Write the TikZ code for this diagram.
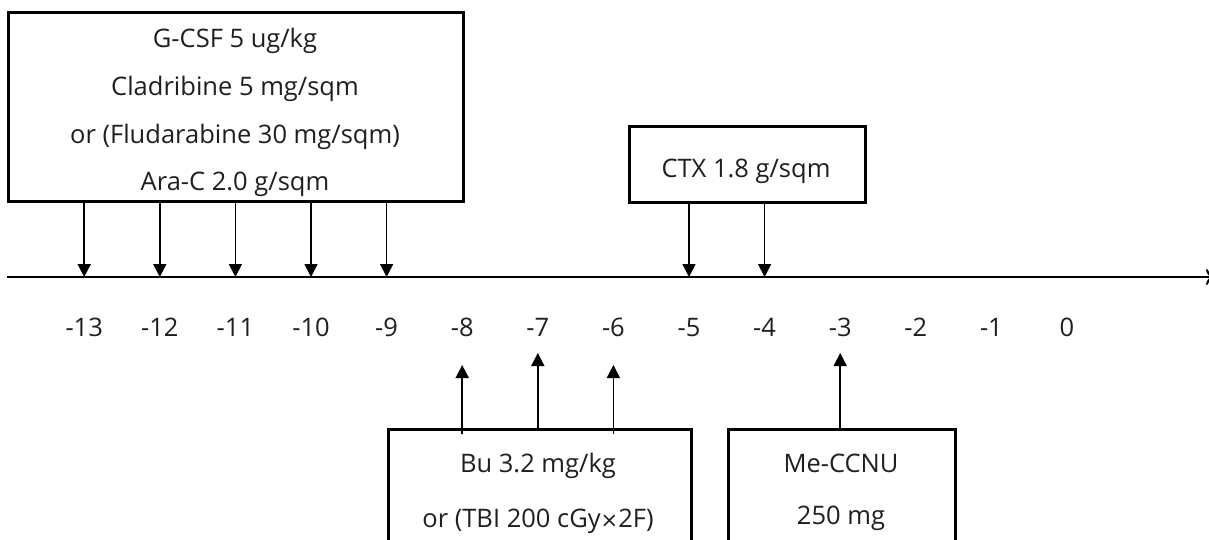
\documentclass[tikz,border=0pt]{standalone}
\usepackage{fontspec}
\setmainfont{Open Sans}
\usetikzlibrary{arrows.meta}
\begin{document}
\begin{tikzpicture}[x=1pt,y=-1pt,
  box/.style={draw=black,line width=2.6pt,inner sep=0pt},
  lbl/.style={font=\fontsize{25.5}{30}\selectfont,text=black!88,inner sep=0pt,anchor=base},
  tick/.style={font=\fontsize{25.5}{30}\selectfont,text=black!88,inner sep=0pt,anchor=base},
  drug/.style={line width=1.7pt,-{Triangle[width=13pt,length=13pt]}},
  axisline/.style={line width=2pt,-{To[length=8pt,width=16pt]}}
]
\useasboundingbox (0,0) rectangle (1209,539);
\clip (0,0) rectangle (1209,539);
% top-left box
\node[box,minimum width=455pt,minimum height=189pt,anchor=north west] (A) at (7,11) {};
\node[lbl] (a1) at (235,47) {G-CSF 5 ug/kg};
\node[lbl] (a2) at (235,95) {Cladribine 5 mg/sqm};
\node[lbl] (a3) at (235,143) {or (Fludarabine 30 mg/sqm)};
\node[lbl] (a4) at (235,190) {Ara-C 2.0 g/sqm};
% CTX box
\node[box,minimum width=236pt,minimum height=76pt,anchor=north west] (C) at (628,125) {};
\node[lbl] (c1) at (746,177) {CTX 1.8 g/sqm};
% Bu box
\node[box,minimum width=303pt,minimum height=160pt,anchor=north west] (B) at (387,428) {};
\node[lbl] (b1) at (538,472) {Bu 3.2 mg/kg};
\node[lbl] (b2) at (538,527) {or (TBI 200 cGy{\fontspec{DejaVu Sans}\fontsize{21}{25}\selectfont ×}2F)};
% Me-CCNU box
\node[box,minimum width=227pt,minimum height=160pt,anchor=north west] (M) at (727,428) {};
\node[lbl] (m1) at (841,472) {Me-CCNU};
\node[lbl] (m2) at (841,524) {250 mg};
% axis
\coordinate (L) at (7,277);
\coordinate (R) at (1214,277);
\draw[axisline] (L) -- (R);
% tick labels and axis points
\foreach \d in {-13,...,0}{
  \coordinate (p\d) at ({1067+75.6*\d},277);
  \node[tick] (t\d) at ({1067+75.6*\d},336) {\d};
}
% arrows from top boxes
\foreach \d in {-13,-12,-11,-10,-9}{
  \draw[drug] (A.south -| p\d) -- (p\d);
}
\foreach \d in {-5,-4}{
  \draw[drug] (C.south -| p\d) -- (p\d);
}
% arrows from bottom boxes
\draw[drug] ([yshift=-6pt]B.north -| p-8) -- ++(0,-69);
\draw[drug] (B.north -| p-7) -- ++(0,-75);
\draw[drug] ([yshift=-6pt]B.north -| p-6) -- ++(0,-69);
\draw[drug] (M.north -| p-3) -- ++(0,-75);
\end{tikzpicture}
\end{document}
